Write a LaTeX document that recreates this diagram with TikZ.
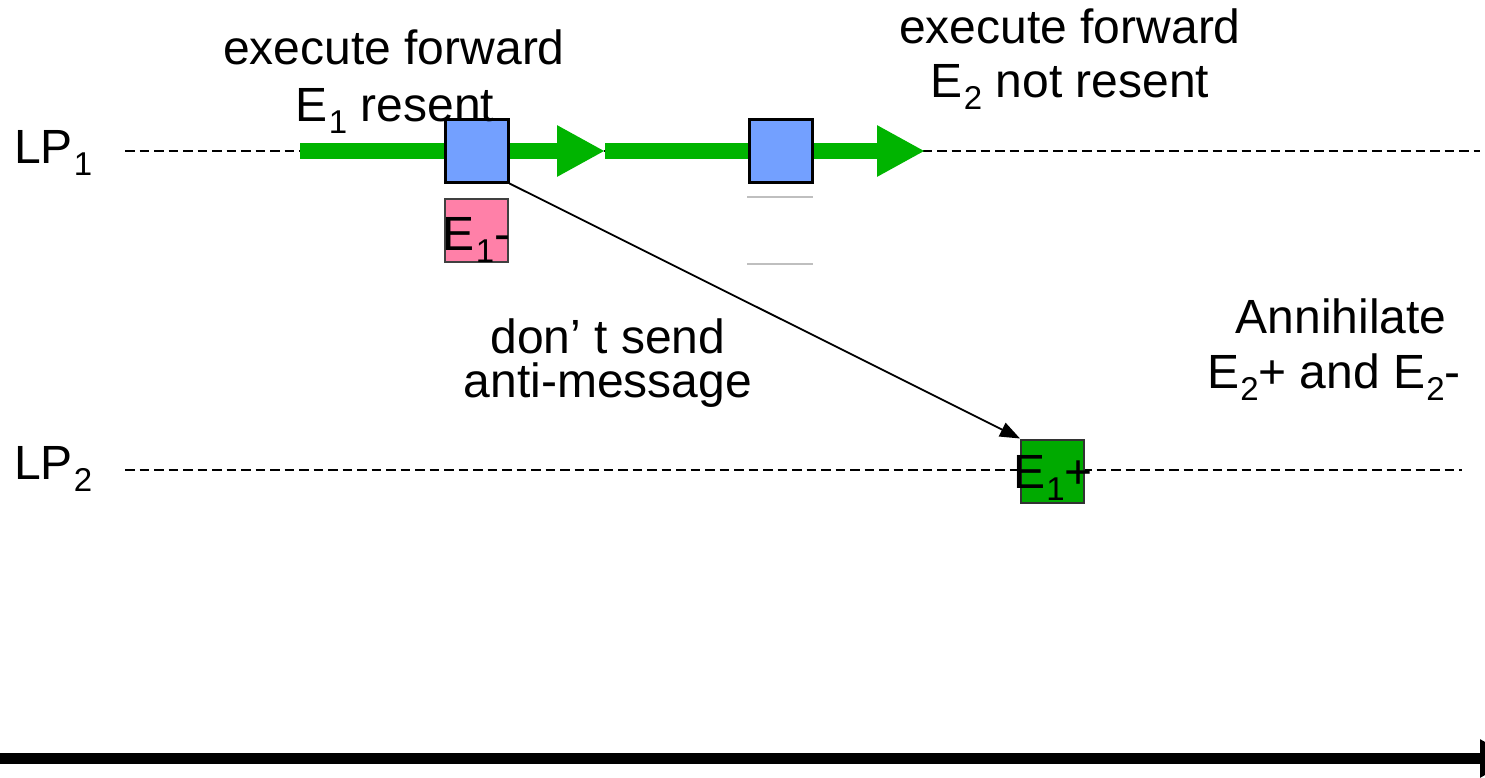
\documentclass[tikz,border=0pt]{standalone}
\usepackage{fontspec}
\setmainfont{Liberation Sans}
\usetikzlibrary{arrows.meta,calc}

\definecolor{flowgreen}{RGB}{0,180,0}
\definecolor{boxgreen}{RGB}{0,170,0}
\definecolor{evblue}{RGB}{115,160,255}
\definecolor{antipink}{RGB}{255,128,168}

% lowered, smaller index digit
\newcommand\sbx[1]{\kern1pt\raisebox{-12pt}{\fontsize{33}{33}\selectfont #1}}

\tikzset{
  txt/.style={font=\fontsize{48}{57}\selectfont, inner sep=0pt, anchor=base},
  lpline/.style={line width=2.2pt, dash pattern=on 9.5pt off 5pt},
  flow/.style={flowgreen, line width=16pt, -{Triangle[length=48pt,width=48pt]}},
  evbox/.style={draw=black, line width=3pt, fill=evblue, minimum size=63pt, inner sep=0pt},
  negbox/.style={draw=black!75, line width=2pt, fill=antipink, minimum size=63pt, inner sep=0pt},
  posbox/.style={draw=black!80, line width=2pt, fill=boxgreen, minimum size=63pt, inner sep=0pt},
  msg/.style={line width=1.8pt, -{Triangle[length=20pt,width=15pt]}},
}

\begin{document}
\begin{tikzpicture}[x=1pt,y=-1pt]
\path[clip] (0,0) rectangle (1485,777);

% process time lines
\coordinate (l1a) at (125,151);
\coordinate (l1b) at (1480,151);
\coordinate (l2a) at (125,470);
\coordinate (l2b) at (1462,470);
\draw[lpline] (l1a) -- (l1b);
\draw[lpline] (l2a) -- (l2b);

\node[txt, anchor=base west] (lp1) at (14,163) {LP\sbx{1}};
\node[txt, anchor=base west] (lp2) at (14,479) {LP\sbx{2}};

% forward execution
\coordinate (f0) at (300,151);
\coordinate (f1) at (605,151);
\coordinate (f2) at (925,151);
\draw[flow] (f0) -- (f1);
\draw[flow] (f1) -- (f2);

% events on LP1
\node[evbox] (b1) at (476.5,150.5) {};
\node[evbox] (b2) at (780.5,150.5) {};
\node[negbox] (neg) at (476.5,230.5) {};
\node[txt] (negt) at ($(neg.center)+(0,19.5)$) {E\sbx{1}-};

% empty slot below the second event
\coordinate (g1a) at (747,197);
\coordinate (g1b) at (813,197);
\coordinate (g2a) at (747,264);
\coordinate (g2b) at (813,264);
\draw[black!25, line width=1.5pt] (g1a) -- (g1b);
\draw[black!25, line width=1.5pt] (g2a) -- (g2b);

% event on LP2
\node[posbox] (pos) at (1052.5,471) {};
\node[txt] (post) at ($(pos.center)+(0.5,17)$) {E\sbx{1}+};

% message
\draw[msg] (b1.south east) -- (pos.north west);

% annotations
\node[txt] (t1a) at (394,64) {execute forward};
\node[txt] (t1b) at (395,121) {E\sbx{1} resent};
\node[txt] (t2a) at (1070,43) {execute forward};
\node[txt] (t2b) at (1070,97) {E\sbx{2} not resent};
\node[txt] (t3a) at (608,353) {don’ t send};
\node[txt] (t3b) at (608,397) {anti-message};
\node[txt] (t4a) at (1341,333) {Annihilate};
\node[txt] (t4b) at (1334,388) {E\sbx{2}+ and E\sbx{2}-};

% time axis
\coordinate (ax0) at (0,758.5);
\coordinate (ax1) at (1515,758.5);
\draw[line width=11pt, -{Triangle[length=35pt,width=36pt]}] (ax0) -- (ax1);
\end{tikzpicture}
\end{document}
